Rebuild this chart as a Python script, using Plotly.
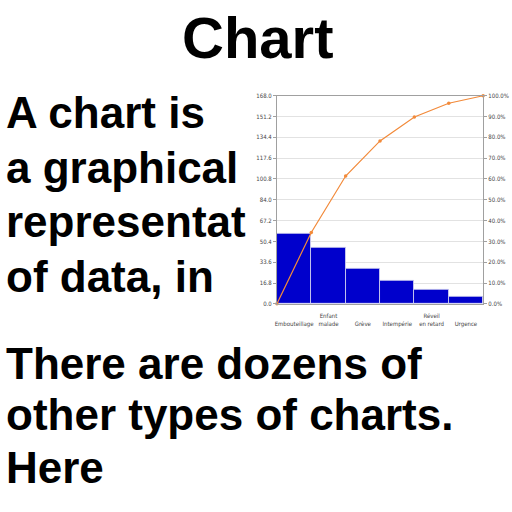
import plotly.graph_objects as go

# ---- data ----
categories = ["Embouteillage", "Enfant<br>malade", "Grève", "Intempérie", "Réveil<br>en retard", "Urgence"]
counts = [57, 45, 28, 19, 11, 6]
cumulative_pct = [0.0, 34.3, 61.4, 78.3, 89.8, 96.4, 100.0]
left_ticks = [0.0, 16.8, 33.6, 50.4, 67.2, 84.0, 100.8, 117.6, 134.4, 151.2, 168.0]
right_ticks = [0, 10, 20, 30, 40, 50, 60, 70, 80, 90, 100]

title_text = "Chart"
para1_lines = ["A chart is", "a graphical", "representat", "of data, in"]
para2_lines = ["There are dozens of", "other types of charts.", "Here"]

W = H = 512
bar_x = [i + 0.5 for i in range(len(counts))]
line_x = list(range(len(cumulative_pct)))
tick_text = [c if "<br>" in c else "&nbsp;<br>" + c for c in categories]

small_font = dict(family="DejaVu Sans Condensed, DejaVu Sans", size=6, color="#444444")
axis_col = "#a0a0a0"

fig = go.Figure()
fig.add_trace(go.Bar(
    x=bar_x, y=counts, width=1.0,
    marker=dict(color="#0000cc", line=dict(color="#d8d8f0", width=0.8)),
    yaxis="y", showlegend=False,
))
fig.add_trace(go.Scatter(
    x=line_x, y=cumulative_pct, mode="lines+markers",
    line=dict(color="#f28a3a", width=1.2),
    marker=dict(color="#f28a3a", size=3.5),
    yaxis="y2", showlegend=False, cliponaxis=False,
))

x0, x1 = 276 / W, 483 / W
y0, y1 = 1 - 304 / H, 1 - 93 / H

fig.update_layout(
    width=W, height=H,
    margin=dict(l=0, r=0, t=0, b=0),
    paper_bgcolor="white", plot_bgcolor="white",
    bargap=0,
    xaxis=dict(
        domain=[x0, x1], range=[0, 6],
        tickmode="array", tickvals=bar_x, ticktext=tick_text,
        tickfont=small_font, ticks="", showgrid=False,
        showline=True, linecolor=axis_col, linewidth=1, mirror=True,
        zeroline=False, ticklabelstandoff=6,
    ),
    yaxis=dict(
        domain=[y0, y1], range=[0, 168],
        tickmode="array", tickvals=left_ticks,
        ticktext=[f"{v:.1f}" for v in left_ticks],
        tickfont=small_font, ticks="outside", ticklen=3, tickcolor=axis_col,
        showgrid=True, gridcolor="#e2e2e2", gridwidth=1,
        showline=True, linecolor=axis_col, linewidth=1, zeroline=False,
    ),
    yaxis2=dict(
        overlaying="y", side="right", range=[0, 100],
        tickmode="array", tickvals=right_ticks,
        ticktext=[f"{v:.1f}%" for v in right_ticks],
        tickfont=small_font, ticks="outside", ticklen=3, tickcolor=axis_col,
        showgrid=False, showline=True, linecolor=axis_col, linewidth=1,
        zeroline=False,
    ),
)

big = dict(family="Liberation Sans, Arial, sans-serif", color="black", weight="bold")
anns = [dict(text=title_text, x=256 / W, y=1 - 34 / H, xanchor="center", yanchor="middle",
             font=dict(size=58, **big))]
para1_centers = [110, 166, 221, 276]
for t, c in zip(para1_lines, para1_centers):
    anns.append(dict(text=t, x=3 / W, y=1 - c / H, xanchor="left", yanchor="middle",
                     font=dict(size=44, **big)))
para2_centers = [364, 416.5, 470]
for t, c in zip(para2_lines, para2_centers):
    anns.append(dict(text=t, x=3 / W, y=1 - c / H, xanchor="left", yanchor="middle",
                     font=dict(size=44, **big)))
for a in anns:
    a.update(xref="paper", yref="paper", showarrow=False, xshift=0, borderpad=0)
fig.update_layout(annotations=anns)

fig.write_html("out.html")
